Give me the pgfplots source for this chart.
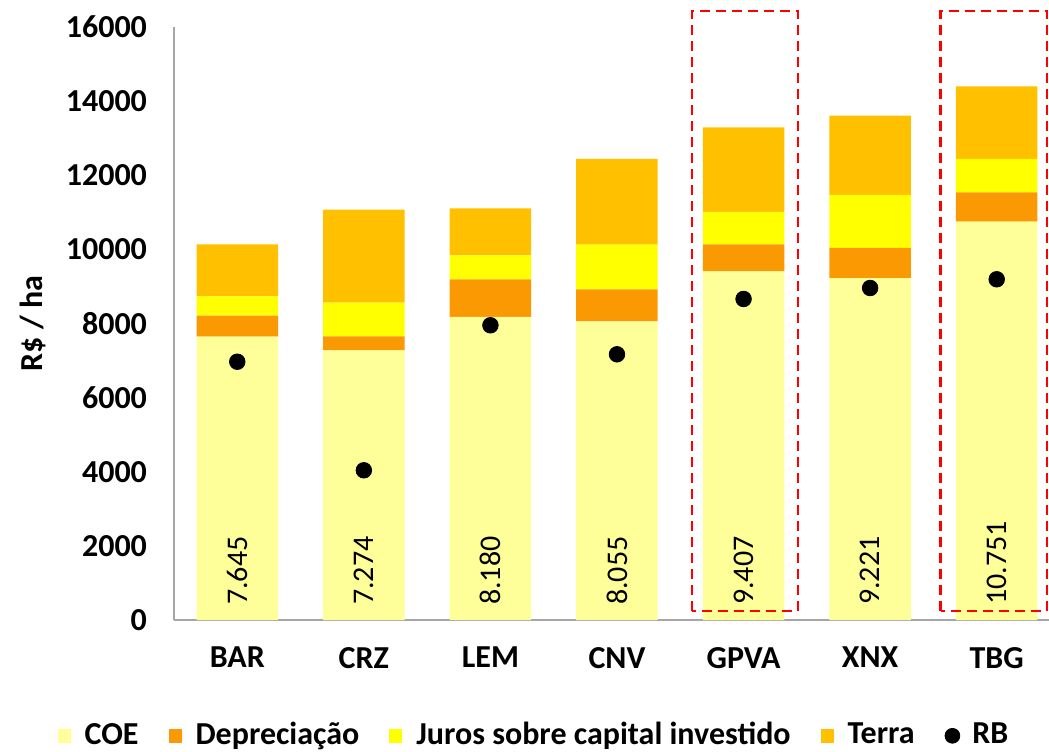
\documentclass[border=0pt]{standalone}
\usepackage{pgfplots}
\pgfplotsset{compat=1.18}
\usepackage{pgfplotstable}
\usepackage{fontspec}
\setmainfont{Carlito}

\definecolor{coe}{HTML}{FFFF99}
\definecolor{depr}{HTML}{FB9902}
\definecolor{juros}{HTML}{FFFF00}
\definecolor{terra}{HTML}{FFC000}
\definecolor{axisgray}{HTML}{A6A6A6}

% x: 0=BAR 1=CRZ 2=LEM 3=CNV 4=GPVA 5=XNX 6=TBG
\pgfplotstableread{
x coe  depr juros terra rb
0 7645 566  523   1404  6969
1 7274 382  907   2509  4039
2 8180 1013 647   1269  7952
3 8055 868  1204  2312  7169
4 9407 731  871   2286  8662
5 9221 817  1430  2143  8958
6 10751 790 898   1962  9193
}\dados

\pgfplotsset{
  common/.style={
    scale only axis,
    width=443pt, height=296.5pt,
    at={(0,0)}, anchor=south west,
    xmin=-0.5, xmax=6.5,
    ymin=0, ymax=16000,
  },
  sq/.style={legend image code/.code={
    \path[draw=none, fill=none] (0pt,-8pt) rectangle (11.5pt,8pt);
    \fill[##1] (0pt,-3.8pt) rectangle (6.5pt,3pt);}},
}
\tikzset{lab/.style={rotate=90, anchor=west, inner sep=0pt, font=\fontsize{15}{17}\selectfont}}

\begin{document}
\begin{tikzpicture}
\path[use as bounding box] (-87pt,-65.5pt) rectangle (437.5pt,310pt);
\begin{axis}[
    common,
    ybar stacked,
    bar width=40.75pt,
    axis x line=bottom, axis y line=left,
    axis line style={axisgray, line width=0.9pt, -},
    major tick length=0pt,
    xtick=data,
    xticklabels={BAR,CRZ,LEM,CNV,GPVA,XNX,TBG},
    ytick={0,2000,...,16000},
    scaled y ticks=false,
    /pgf/number format/assume math mode=true,
    /pgf/number format/set thousands separator={},
    ticklabel style={font=\bfseries\fontsize{16}{18}\selectfont},
    xticklabel style={yshift=-10pt},
    yticklabel style={xshift=-10pt},
    ylabel={R\$ / ha},
    every axis y label/.style={at={(axis description cs:0,0.5)}, xshift=-70.5pt,
      rotate=90, anchor=center, font=\bfseries\fontsize{16}{18}\selectfont},
    legend columns=-1,
    legend style={at={(180.5pt,-57.5pt)}, anchor=center, draw=none,
      font=\bfseries\fontsize{16}{18}\selectfont,
      /tikz/every even column/.append style={column sep=13pt}},
    clip=false,
]
\addplot[fill=coe, draw=none, sq] table[x=x, y=coe] {\dados};
\addlegendentry{COE}
\addplot[fill=depr, draw=none, sq] table[x=x, y=depr] {\dados};
\addlegendentry{Depreciação}
\addplot[fill=juros, draw=none, sq] table[x=x, y=juros] {\dados};
\addlegendentry{Juros sobre capital investido}
\addplot[fill=terra, draw=none, sq] table[x=x, y=terra] {\dados};
\addlegendentry{Terra}
\addlegendimage{legend image code/.code={
  \path[draw=none, fill=none] (0pt,-8pt) rectangle (11.5pt,8pt);
  \fill[black] (3.5pt,-0.4pt) circle (3.7pt);}}
\addlegendentry{RB}
\end{axis}

\begin{axis}[common, hide axis, clip=false]
\addplot[only marks, mark=*, black, mark size=3.9pt] table[x=x, y=rb] {\dados};

% rotulos do COE
\node[lab] at (axis cs:0,400) {7.645};
\node[lab] at (axis cs:1,400) {7.274};
\node[lab] at (axis cs:2,400) {8.180};
\node[lab] at (axis cs:3,400) {8.055};
\node[lab] at (axis cs:4,400) {9.407};
\node[lab] at (axis cs:5,400) {9.221};
\node[lab] at (axis cs:6,400) {10.751};

% destaques
\draw[red, line width=1.3pt, dash pattern=on 5pt off 3pt]
  (axis cs:3.592,243) rectangle (axis cs:4.43,16433);
\draw[red, line width=1.3pt, dash pattern=on 5pt off 3pt]
  (axis cs:5.558,243) rectangle (axis cs:6.396,16433);
\end{axis}
\end{tikzpicture}
\end{document}
